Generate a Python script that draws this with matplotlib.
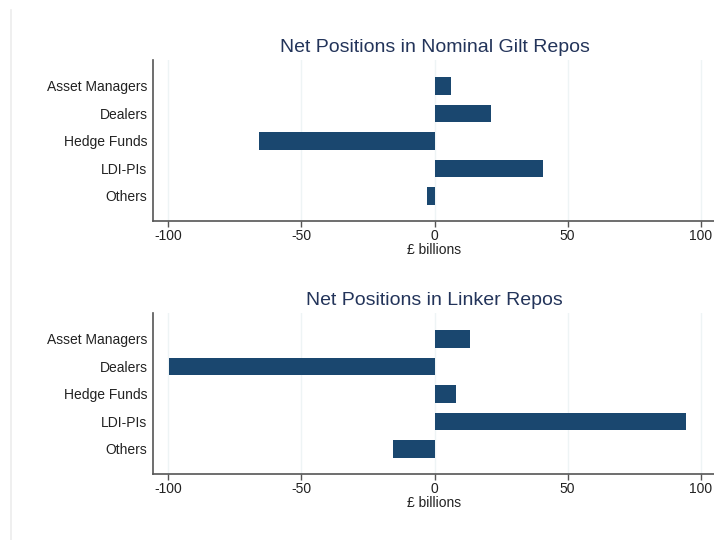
import matplotlib
matplotlib.use("Agg")
import matplotlib.pyplot as plt
from matplotlib.lines import Line2D

plt.rcParams['font.family'] = ['Liberation Sans', 'DejaVu Sans']

categories = ["Asset Managers", "Dealers", "Hedge Funds", "LDI-PIs", "Others"]
nominal_values = [6.3, 21.4, -65.8, 40.9, -2.9]
linker_values = [13.2, -99.7, 7.9, 94.3, -15.4]
titles = ["Net Positions in Nominal Gilt Repos", "Net Positions in Linker Repos"]
xticks = [-100, -50, 0, 50, 100]
xlabel = "£ billions"

bar_color = "#1a476f"
title_color = "#23345a"
spine_color = "#555555"
grid_color = "#eef4f5"

fig = plt.figure(figsize=(7.14, 5.40), dpi=100)
fig.patch.set_facecolor("white")

# faint graph-region border on the left
fig.add_artist(Line2D([11.5/714, 11.5/714], [0, 1 - 10/540], transform=fig.transFigure,
                      color="#ececec", lw=1.2))

axes_rects = [
    [153/714, 1 - 221/540, 563/714, 161/540],
    [153/714, 1 - 474/540, 563/714, 161/540],
]

for rect, vals, title in zip(axes_rects, [nominal_values, linker_values], titles):
    ax = fig.add_axes(rect)
    ypos = list(range(len(categories)))
    ax.barh(ypos, vals, height=0.62, color=bar_color, zorder=3)
    ax.set_xlim(-105.7, 105.7)
    ax.set_ylim(4.91, -0.945)
    ax.set_yticks(ypos)
    ax.set_yticklabels(categories, fontsize=10, color="#222222")
    ax.set_xticks(xticks)
    ax.set_xticklabels([str(t) for t in xticks], fontsize=10, color="#222222")
    ax.set_xlabel(xlabel, fontsize=10, color="#222222", labelpad=0)
    ax.grid(axis="x", color=grid_color, lw=1, zorder=0)
    ax.set_axisbelow(True)
    for s in ["top", "right"]:
        ax.spines[s].set_visible(False)
    for s in ["left", "bottom"]:
        ax.spines[s].set_color(spine_color)
        ax.spines[s].set_linewidth(1.2)
    ax.tick_params(axis="x", length=4, width=1, color=spine_color, pad=2)
    ax.tick_params(axis="y", length=0, pad=4)
    ax.set_title(title, fontsize=14, color=title_color, pad=6)

fig.savefig("out.png", dpi=100)
